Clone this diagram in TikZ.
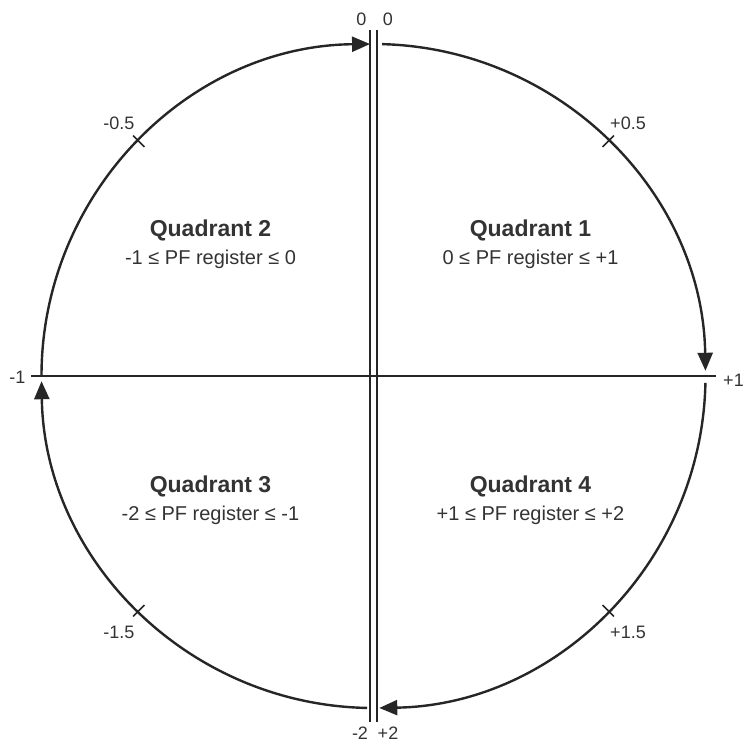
\documentclass[tikz,border=0pt]{standalone}
\usepackage{fontspec}
\setmainfont{Liberation Sans}
\usetikzlibrary{arrows.meta}
\definecolor{ink}{HTML}{262626}
\definecolor{txt}{HTML}{333333}

\begin{document}
\begin{tikzpicture}[
    x=1pt, y=1pt,
    axis/.style={draw=ink, line width=2.4pt},
    ring/.style={draw=ink, line width=2.4pt, -{Triangle[length=18pt, width=15pt]}},
    tickmark/.style={draw=ink, line width=1.6pt},
    value/.style={text=txt, font=\fontsize{18}{21}\selectfont},
    quad/.style={text=txt, align=center, font=\fontsize{20}{28}\selectfont}
]
\useasboundingbox (-373.5,-369) rectangle (377.5,376);

% ===== AXES =====
\coordinate (bartopl) at (-3.5,346);
\coordinate (barbotl) at (-3.5,-346);
\coordinate (bartopr) at (3.5,346);
\coordinate (barbotr) at (3.5,-346);
\coordinate (axleft) at (-342,0);
\coordinate (axright) at (342,0);
\draw[axis] (bartopl) -- (barbotl);
\draw[axis] (bartopr) -- (barbotr);
\draw[axis] (axleft) -- (axright);

% ===== CIRCLE (clockwise) =====
\draw[ring] (88.5:332pt) arc[start angle=88.5, end angle=0.9, radius=332pt];
\draw[ring] (-1.2:332pt) arc[start angle=-1.2, end angle=-89.0, radius=332pt];
\draw[ring] (268.9:332pt) arc[start angle=268.9, end angle=180.9, radius=332pt];
\draw[ring] (180:332pt) arc[start angle=180, end angle=90.6, radius=332pt];

% ===== TICKS =====
\foreach \ang in {45,135,225,315}
    \draw[tickmark] (\ang:324pt) -- (\ang:340pt);

% ===== VALUES =====
\node[value] (top0l) at (-12,357) {0};
\node[value] (top0r) at (14.5,357) {0};
\node[value] (botm2) at (-13.5,-357) {-2};
\node[value] (botp2) at (14.5,-357) {+2};
\node[value] (leftm1) at (-356,-1) {-1};
\node[value] (rightp1) at (360,-4) {+1};
\node[value] (m05) at (-254.5,253) {-0.5};
\node[value] (p05) at (254.5,253) {+0.5};
\node[value] (m15) at (-254.5,-256) {-1.5};
\node[value] (p15) at (254.5,-256) {+1.5};

% ===== QUADRANTS =====
\node[quad] (q1) at (157,132) {\textbf{\fontsize{23}{28}\selectfont Quadrant 1}\\0 ≤ PF register ≤ +1};
\node[quad] (q2) at (-163,132) {\textbf{\fontsize{23}{28}\selectfont Quadrant 2}\\-1 ≤ PF register ≤ 0};
\node[quad] (q3) at (-163,-124.5) {\textbf{\fontsize{23}{28}\selectfont Quadrant 3}\\-2 ≤ PF register ≤ -1};
\node[quad] (q4) at (157,-124.5) {\textbf{\fontsize{23}{28}\selectfont Quadrant 4}\\+1 ≤ PF register ≤ +2};

\end{tikzpicture}
\end{document}
